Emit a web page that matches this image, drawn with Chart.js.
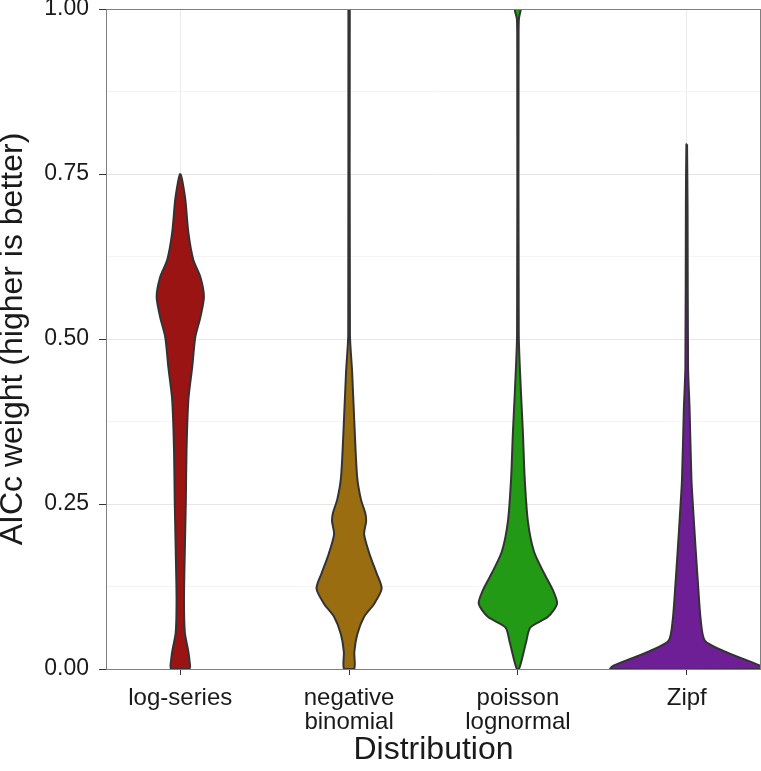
<!DOCTYPE html>
<html>
<head>
<script src="https://cdn.jsdelivr.net/npm/chart.js@4.4.1/dist/chart.umd.min.js"></script>
<style>
  body { margin: 0; background: #fff; }
</style>
</head>
<body>
<canvas id="violin" width="761" height="771"></canvas>
<script>
  // categories and tick labels
  const categories = ["log-series", "negative binomial", "poisson lognormal", "Zipf"];
  const tickLabels = [["log-series"], ["negative", "binomial"], ["poisson", "lognormal"], ["Zipf"]];
  const colours = ["#9b1414", "#9a6e10", "#229a15", "#6f1f96"];

  // violin outlines: AICc weight values and half widths (in category units)
  const logSeriesY  = [0.75, 0.74, 0.711, 0.661, 0.62, 0.594, 0.564, 0.533, 0.503, 0.458, 0.408, 0.332, 0.256, 0.18, 0.105, 0.055, 0.029, 0.014, 0];
  const logSeriesHW = [0.002, 0.012, 0.030, 0.048, 0.077, 0.119, 0.140, 0.119, 0.089, 0.071, 0.048, 0.037, 0.033, 0.027, 0.022, 0.027, 0.046, 0.054, 0.054];

  const negBinY  = [1.0, 0.507, 0.45, 0.356, 0.29, 0.257, 0.237, 0.224, 0.204, 0.171, 0.145, 0.122, 0.099, 0.079, 0.053, 0.026, 0];
  const negBinHW = [0.004, 0.005, 0.018, 0.034, 0.048, 0.07, 0.095, 0.101, 0.089, 0.125, 0.163, 0.193, 0.149, 0.089, 0.049, 0.031, 0.030];

  const poisLogY  = [1.0, 0.985, 0.95, 0.507, 0.42, 0.356, 0.29, 0.224, 0.178, 0.145, 0.119, 0.099, 0.079, 0.063, 0.04, 0.013, 0];
  const poisLogHW = [0.018, 0.006, 0.004, 0.005, 0.018, 0.03, 0.04, 0.059, 0.095, 0.155, 0.208, 0.232, 0.178, 0.074, 0.048, 0.022, 0.006];

  const zipfY  = [0.795, 0.7, 0.457, 0.394, 0.287, 0.234, 0.181, 0.128, 0.074, 0.043, 0.027, 0.016, 0.005, 0];
  const zipfHW = [0.002, 0.005, 0.008, 0.017, 0.028, 0.04, 0.053, 0.067, 0.083, 0.107, 0.22, 0.327, 0.434, 0.452];

  const yTicks = [0, 0.25, 0.5, 0.75, 1];

  function outline(pos, ys, hws) {
    const right = ys.map((y, i) => ({ x: pos + hws[i], y: y }));
    const left = ys.map((y, i) => ({ x: pos - hws[i], y: y })).reverse();
    const pts = right.concat(left);
    pts.push(pts[0]);
    return pts;
  }

  const shapes = [
    outline(1, logSeriesY, logSeriesHW),
    outline(2, negBinY, negBinHW),
    outline(3, poisLogY, poisLogHW),
    outline(4, zipfY, zipfHW)
  ];

  const datasets = shapes.map((pts, i) => ({
    label: categories[i],
    data: pts,
    showLine: true,
    fill: "shape",
    backgroundColor: colours[i],
    borderColor: "#333333",
    borderWidth: 2,
    pointRadius: 0,
    tension: 0.25
  }));

  // grey panel border like ggplot theme_bw
  const panelBorder = {
    id: "panelBorder",
    afterDraw(chart) {
      const a = chart.chartArea, ctx = chart.ctx;
      ctx.save();
      ctx.strokeStyle = "#7f7f7f";
      ctx.lineWidth = 1;
      ctx.strokeRect(a.left + 0.5, a.top + 0.5, a.right - a.left - 1, a.bottom - a.top);
      ctx.restore();
    }
  };

  const isMajor = (v) => Math.abs(v * 4 - Math.round(v * 4)) < 1e-6;

  Chart.defaults.font.family = "'Liberation Sans', Arial, sans-serif";
  Chart.defaults.color = "#1a1a1a";

  new Chart("violin", {
    type: "scatter",
    data: { datasets: datasets },
    plugins: [panelBorder],
    options: {
      responsive: false,
      animation: false,
      layout: { padding: 0 },
      plugins: { legend: { display: false }, tooltip: { enabled: false } },
      scales: {
        x: {
          type: "linear",
          min: 0.56,
          max: 4.44,
          afterBuildTicks: (axis) => { axis.ticks = [1, 2, 3, 4].map(v => ({ value: v })); },
          afterFit: (axis) => { axis.height = 102; axis.paddingLeft = 0; axis.paddingRight = 0; },
          ticks: {
            font: { size: 24, lineHeight: 1.02 },
            padding: 11,
            maxRotation: 0,
            autoSkip: false,
            callback: (v) => tickLabels[v - 1]
          },
          grid: { color: "#ebebeb", tickColor: "#333333", tickLength: 6 },
          border: { display: false },
          title: { display: true, text: "Distribution", font: { size: 32, lineHeight: 1 }, padding: { top: 0, bottom: 5 } }
        },
        y: {
          min: 0,
          max: 1,
          afterBuildTicks: (axis) => {
            const t = [];
            for (let i = 0; i <= 8; i++) t.push({ value: i * 0.125 });
            axis.ticks = t;
          },
          afterFit: (axis) => { axis.width = 106; axis.paddingTop = 9; axis.paddingBottom = 0; },
          ticks: {
            font: { size: 23, lineHeight: 1 },
            padding: 10,
            callback: (v) => yTicks.some(t => Math.abs(t - v) < 1e-6) ? v.toFixed(2) : ""
          },
          grid: {
            color: (c) => (c.tick && isMajor(c.tick.value)) ? "#e6e6e6" : "#f4f4f4",
            tickColor: (c) => (c.tick && isMajor(c.tick.value)) ? "#333333" : "rgba(0,0,0,0)",
            tickLength: 7
          },
          border: { display: false },
          title: { display: true, text: "AICc weight (higher is better)", font: { size: 32, lineHeight: 0.8 }, padding: { top: 0, bottom: 0 } }
        }
      }
    }
  });
</script>
</body>
</html>
